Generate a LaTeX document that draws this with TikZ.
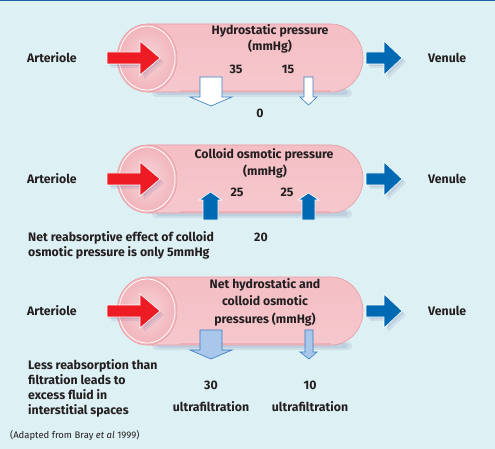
\documentclass[tikz,border=0pt]{standalone}
\usepackage{fontspec}
\setmainfont{Fira Sans}
\usetikzlibrary{positioning}
\definecolor{bg}{HTML}{DDF0F3}
\definecolor{frame}{HTML}{1F5FA8}
\definecolor{ink}{HTML}{231F20}
\definecolor{tubeedge}{HTML}{E79CA5}
\definecolor{tubebot}{HTML}{F5C8CD}
\definecolor{tubemid}{HTML}{FFF6F7}
\definecolor{tubetop}{HTML}{F4BEC4}
\definecolor{capfill}{HTML}{F1B3BA}
\definecolor{inred}{HTML}{ED1C24}
\definecolor{outblue}{HTML}{0069B4}
\definecolor{flowline}{HTML}{3A7CC4}
\definecolor{flowfill}{HTML}{A9C7EA}
\tikzset{
  lab/.style={font=\fontsize{12.3}{15}\selectfont\bfseries,text=ink,inner sep=0pt},
  txt/.style={lab,align=center},
  note/.style={lab,align=left,anchor=north west},
  tube/.style={draw=tubeedge,line width=0.6pt,top color=tubetop,middle color=tubemid,bottom color=tubebot},
  vesselend/.style={draw=tubeedge,line width=0.5pt,inner color=capfill!55,outer color=capfill},
  inarr/.style={fill=inred,draw=white,line width=0.6pt},
  outarr/.style={fill=outblue,draw=white,line width=0.6pt},
  filt/.style={fill=white,draw=flowline,line width=0.6pt},
  filt2/.style={fill=flowfill,draw=flowline,line width=0.6pt},
  shad/.style={fill=black!60!blue,opacity=0.07},
}

\begin{document}
\begin{tikzpicture}[x=1pt,y=-1pt]
\useasboundingbox (0,0) rectangle (495,449);
\fill[bg] (0,0) rectangle (495,449);
\fill[frame] (0,0) rectangle (495,1.5);
% vessels
\foreach \i/\yc in {1/58,2/179,3/311} {
  \fill[shad,rounded corners=4pt] (152,\yc+31) rectangle (352,\yc+39);
  \fill[shad,rounded corners=3pt] (156,\yc+32) rectangle (348,\yc+37);
  \path[tube] (147,\yc-34) -- (331,\yc-34) arc[start angle=-90,end angle=90,x radius=32,y radius=34] -- (147,\yc+34) -- cycle;
  \draw[tubeedge!80,line width=1.2pt] (180,\yc+33) -- (331,\yc+33);
  \path[vesselend] (147,\yc) ellipse[x radius=30,y radius=34];
  \draw[white,line width=0.8pt] (147,\yc) ellipse[x radius=28,y radius=32];
  \foreach \d in {2,4} {
    \fill[shad] (107+\d,\yc-6+\d) -- (140+\d,\yc-6+\d) -- (140+\d,\yc-17+\d) -- (160+\d,\yc+\d) -- (140+\d,\yc+17+\d) -- (140+\d,\yc+6+\d) -- (107+\d,\yc+6+\d) -- cycle;
    \fill[shad] (366+\d,\yc-6+\d) -- (384+\d,\yc-6+\d) -- (384+\d,\yc-17+\d) -- (402+\d,\yc+\d) -- (384+\d,\yc+17+\d) -- (384+\d,\yc+6+\d) -- (366+\d,\yc+6+\d) -- cycle;
  }
  \path[inarr] (107,\yc-6) -- (140,\yc-6) -- (140,\yc-17) -- (160,\yc) -- (140,\yc+17) -- (140,\yc+6) -- (107,\yc+6) -- cycle;
  \path[outarr] (366,\yc-6) -- (384,\yc-6) -- (384,\yc-17) -- (402,\yc) -- (384,\yc+17) -- (384,\yc+6) -- (366,\yc+6) -- cycle;
  \node[lab,anchor=west] (art\i) at (27,\yc) {Arteriole};
  \node[lab,anchor=west] (ven\i) at (428,\yc) {Venule};
}
% hydrostatic
\node[txt] (hyd) at (270,31) {Hydrostatic pressure};
\node[txt] (hydu) at (270,47) {(mmHg)};
\node[txt] (h35) at (236,69) {35};
\node[txt] (h15) at (288,69) {15};
\node[txt] (h0) at (260,113) {0};
\path[filt] (200,77) -- (222,77) -- (222,97) -- (232,97) -- (211,106) -- (190,97) -- (200,97) -- cycle;
\path[filt] (304,77) -- (313,77) -- (313,97) -- (317,97) -- (308.5,105) -- (300,97) -- (304,97) -- cycle;
% colloid
\node[txt] (col) at (264,155) {Colloid osmotic pressure};
\node[txt] (colu) at (265,172) {(mmHg)};
\node[txt] (c25a) at (237,192) {25};
\node[txt] (c25b) at (287,192) {25};
\node[txt] (c20) at (261,237) {20};
\path[outarr] (203,220) -- (218,220) -- (218,200) -- (222,200) -- (210.5,192) -- (199,200) -- (203,200) -- cycle;
\path[outarr] (302,220) -- (315,220) -- (315,200) -- (319,200) -- (308.5,193) -- (298,200) -- (302,200) -- cycle;
\node[note] (reab) at (28,231) {Net reabsorptive effect of colloid\\osmotic pressure is only 5mmHg};
% net
\node[txt,font=\fontsize{12.3}{17.5}\selectfont\bfseries] (net) at (265,302) {Net hydrostatic and\\colloid osmotic\\pressures (mmHg)};
\path[filt2] (200,330) -- (222,330) -- (222,350) -- (232,350) -- (211,359) -- (190,350) -- (200,350) -- cycle;
\path[filt2] (305,330) -- (313,330) -- (313,352) -- (317,352) -- (309,359) -- (300,352) -- (305,352) -- cycle;
\node[txt] (n30) at (211,385) {30};
\node[txt] (uf1) at (211,407) {ultrafiltration};
\node[txt] (n10) at (310,385) {10};
\node[txt] (uf2) at (310,407) {ultrafiltration};
\node[note] (less) at (28,359) {Less reabsorption than\\filtration leads to\\excess fluid in\\interstitial spaces};
\node[anchor=west,inner sep=0pt,text=ink,font=\fontsize{9.5}{11}\selectfont] (src) at (10,435) {(Adapted from Bray \textit{et al} 1999)};
\end{tikzpicture}
\end{document}
